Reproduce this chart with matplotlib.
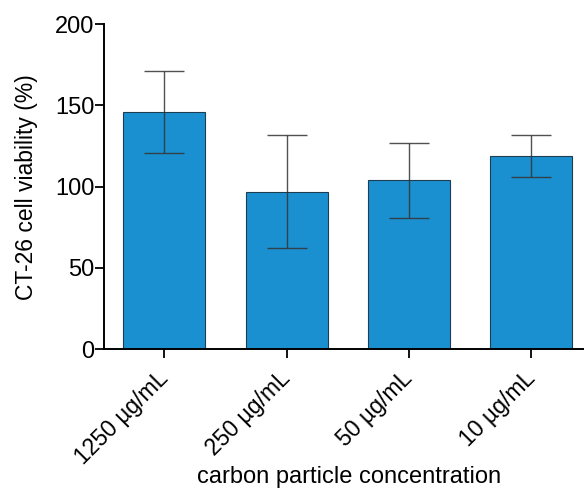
import numpy as np
import matplotlib.pyplot as plt

plt.rcParams['font.family'] = ['Liberation Sans', 'DejaVu Sans']

# data
labels = ['1250 µg/mL', '250 µg/mL', '50 µg/mL', '10 µg/mL']
viability = [146, 97, 104, 119]
sd = [25, 35, 23, 13]

fig = plt.figure(figsize=(5.84, 4.91), dpi=100)
ax = fig.add_axes([0.178, 0.2886, 0.822, 0.6624])

x = np.arange(len(labels))
ax.bar(x, viability, width=0.67, color='#1b90d0', edgecolor='#1d3d52', linewidth=0.8, zorder=2)
ax.errorbar(x, viability, yerr=sd, fmt='none', ecolor='#333333', elinewidth=1,
            capsize=14.5, capthick=1, alpha=0.85, zorder=3)

ax.set_xlim(-0.494, 3.43)
ax.set_ylim(0, 200)
ax.set_yticks([0, 50, 100, 150, 200])
ax.set_xticks(x)
ax.set_xticklabels(labels, rotation=45, ha='right', va='center', rotation_mode='anchor', fontsize=16.5)
ax.tick_params(axis='y', labelsize=17, length=6.5, width=1.3, direction='out', pad=0.5)
ax.tick_params(axis='x', length=6.5, width=1.3, direction='out', pad=12)

for s in ['top', 'right']:
    ax.spines[s].set_visible(False)
for s in ['left', 'bottom']:
    ax.spines[s].set_linewidth(1.4)

ax.set_ylabel('CT-26 cell viability (%)', fontsize=16.5, labelpad=12)
ax.set_xlabel('carbon particle concentration', fontsize=17)
ax.xaxis.set_label_coords(0.51, -0.36)

fig.savefig('out.png', dpi=100)
